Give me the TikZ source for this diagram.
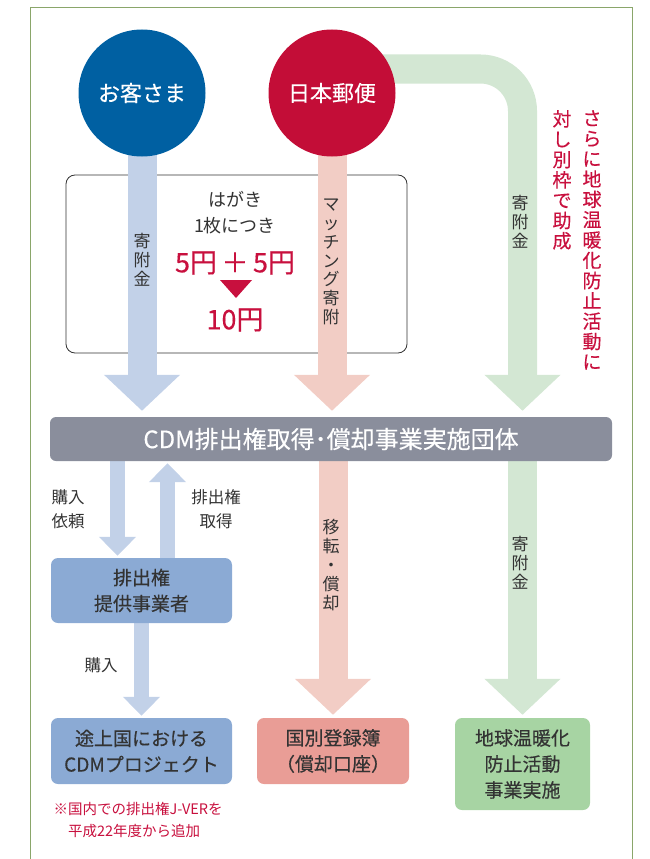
\documentclass[tikz,border=0pt]{standalone}
\usepackage{fontspec}
\setmainfont{Noto Sans CJK JP}
\newfontfamily\medfont{Noto Sans CJK JP}[FakeBold=0.35]
\usetikzlibrary{arrows.meta,backgrounds}

\definecolor{kyakublue}{HTML}{0060A2}
\definecolor{postred}{HTML}{C30D37}
\definecolor{bandblue}{HTML}{C2D1E8}
\definecolor{bandpink}{HTML}{F2CDC5}
\definecolor{bandgreen}{HTML}{D3E7D3}
\definecolor{bannergray}{HTML}{8A8E9C}
\definecolor{boxblue}{HTML}{8BAAD4}
\definecolor{boxpink}{HTML}{E99D96}
\definecolor{boxgreen}{HTML}{A7D4A3}
\definecolor{txtred}{HTML}{C8103E}
\definecolor{txtgray}{HTML}{333333}
\definecolor{framegreen}{HTML}{8AA66A}

\tikzset{
  circ/.style={circle, minimum size=127pt, inner sep=0pt, text=white,
    font=\medfont\fontsize{22}{24}\selectfont},
  flowbox/.style={rounded corners=7pt, inner sep=0pt, align=center,
    text=txtgray, font=\medfont\fontsize{19}{26}\selectfont},
  widearrow/.style={line width=29pt, -{Triangle[length=36pt,width=74pt]},
    shorten >=6pt},
  thinarrow/.style={line width=15pt, -{Triangle[length=19pt,width=36pt]},
    shorten >=2pt},
  vlabel/.style={align=center, text=txtgray, inner sep=0pt,
    font=\fontsize{17}{18.8}\selectfont},
  hlabel/.style={align=center, text=txtgray, inner sep=0pt,
    font=\fontsize{16.5}{24}\selectfont},
  redlabel/.style={align=center, text=txtred, inner sep=0pt,
    font=\medfont\fontsize{19}{20.3}\selectfont}
}

\begin{document}
\begin{tikzpicture}[x=1pt,y=-1pt]
  \useasboundingbox (0,0) rectangle (650,859);

  % outer frame, open at the bottom
  \draw[framegreen, line width=0.8pt] (30,859) -- (30,7) -- (632,7) -- (632,859);

  % the two givers
  \node[circ, fill=kyakublue] (kyaku) at (142,93) {お客さま};
  \node[circ, fill=postred] (post) at (332,93) {日本郵便};

  % receivers
  \node[flowbox, fill=bannergray, minimum width=562pt, minimum height=44pt,
    rounded corners=6pt, text=white, font=\medfont\fontsize{24}{26}\selectfont]
    (cdm) at (331,439) {CDM排出権取得･償却事業実施団体};
  \node[flowbox, fill=boxblue, minimum width=181pt, minimum height=65pt]
    (supplier) at (141.5,590.5) {排出権\\提供事業者};
  \node[flowbox, fill=boxblue, minimum width=181pt, minimum height=66pt]
    (cdmproj) at (141.5,751) {途上国における\\CDMプロジェクト};
  \node[flowbox, fill=boxpink, minimum width=152pt, minimum height=66pt]
    (register) at (333,751) {国別登録簿\\（償却口座）};
  \node[flowbox, fill=boxgreen, minimum width=135pt, minimum height=92pt]
    (act) at (522.5,764) {地球温暖化\\防止活動\\事業実施};

  \begin{pgfonlayer}{background}
    % per-card box
    \node[draw=txtgray, line width=0.8pt, rounded corners=9pt,
      minimum width=341pt, minimum height=178pt] (card) at (236.5,264) {};

    % money flows
    \draw[widearrow, bandblue] (kyaku.center) -- (cdm.north -| kyaku);
    \draw[widearrow, bandpink] (post.center) -- (cdm.north -| post);
    \draw[widearrow, bandgreen, rounded corners=42pt]
      ([yshift=24pt]post.center) -| (cdm.north -| act);
    \coordinate (req) at ([xshift=-24pt]supplier.north);
    \coordinate (get) at ([xshift=26pt]supplier.north);
    \draw[thinarrow, bandblue] (cdm.south -| req) -- (req);
    \draw[thinarrow, bandblue] (get) -- (cdm.south -| get);
    \draw[thinarrow, bandblue] (supplier.south) -- (cdmproj.north);
    \draw[widearrow, bandpink, shorten >=3pt] (cdm.south -| register) -- (register.north);
    \draw[widearrow, bandgreen, shorten >=3pt] (cdm.south -| act) -- (act.north);
  \end{pgfonlayer}

  % texts in the card
  \node[hlabel, font=\fontsize{18}{26}\selectfont] (hagaki) at (235,213) {はがき\\1枚につき};
  \node[text=txtred, font=\medfont\fontsize{27}{30}\selectfont] (price) at (235,263)
    {5円\,＋\,5円};
  \fill[txtred] (220,280) -- (252,280) -- (236,298) -- cycle;
  \node[text=txtred, font=\medfont\fontsize{27}{30}\selectfont] (total) at (235,320) {10円};

  % labels on the flows
  \node[vlabel] (lbla) at (142,260) {寄\\附\\金};
  \node[vlabel] (lblb) at (331,262) {マ\\ッ\\チ\\ン\\グ\\寄\\附};
  \node[vlabel] (lblc) at (520,222) {寄\\附\\金};
  \node[vlabel] (lbld) at (331,565) {移\\転\\・\\償\\却};
  \node[vlabel] (lble) at (520,563) {寄\\附\\金};
  \node[hlabel] (lblf) at (68,509) {購入\\依頼};
  \node[hlabel] (lblg) at (216,509) {排出権\\取得};
  \node[hlabel] (lblh) at (101,665) {購入};

  % extra grant, written top to bottom
  \node[redlabel, anchor=north] (extra) at (592,110)
    {さ\\ら\\に\\地\\球\\温\\暖\\化\\防\\止\\活\\動\\に};
  \node[redlabel, anchor=north] (extrab) at (562,110)
    {対\\し\\別\\枠\\で\\助\\成};

  % note
  \node[align=left, text=txtred, font=\fontsize{14.5}{22}\selectfont, anchor=north west]
    (note) at (50,799) {※国内での排出権J-VERを\\\hspace*{1em}平成22年度から追加};
\end{tikzpicture}
\end{document}
